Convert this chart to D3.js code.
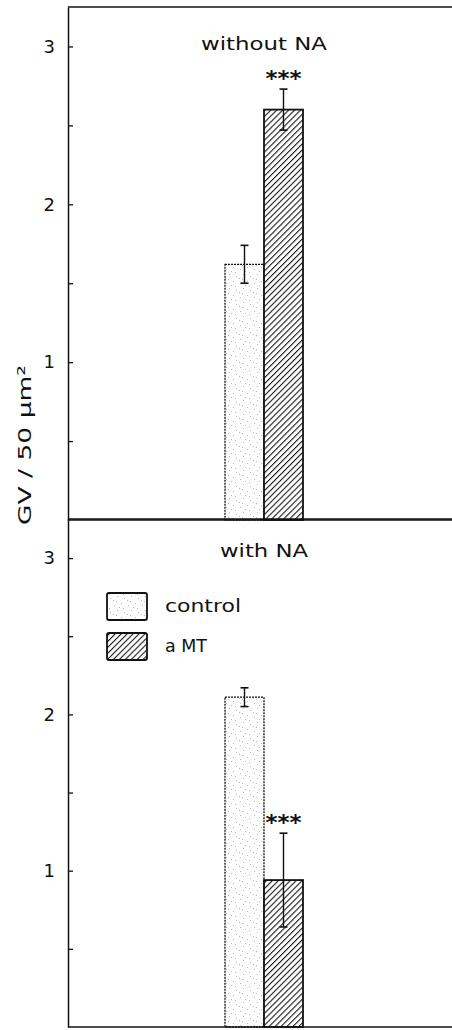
<!DOCTYPE html>
<html>
<head>
<meta charset="utf-8">
<script src="https://cdn.jsdelivr.net/npm/d3@7/dist/d3.min.js"></script>
<style>
  html, body { margin: 0; padding: 0; background: #fff; }
  svg { display: block; }
  text { font-family: "DejaVu Sans", sans-serif; fill: #111; }
</style>
</head>
<body>
<svg id="chart" width="452" height="1030"></svg>
<script>
// ---- data ----
const panels = ["without NA", "with NA"];
const treatments = ["control", "a MT"];
const controlMeans = [1.62, 2.11];
const controlErrors = [0.12, 0.06];
const aMTMeans = [2.60, 0.94];
const aMTErrors = [0.13, 0.30];
const significance = ["***", "***"];
const tickValues = [0.5, 1, 1.5, 2, 2.5, 3];
const tickLabels = ["", "1", "", "2", "", "3"];
const yLabel = "GV / 50 µm²";

// ---- layout ----
const W = 452;
const axisX = 68;
const panelRanges = [[520, 7], [1027, 519]];
const svg = d3.select("#chart");
const defs = svg.append("defs");

// hatch pattern
const hatch = defs.append("pattern").attr("id", "hatch").attr("patternUnits", "userSpaceOnUse")
  .attr("width", 4.2).attr("height", 4.2).attr("patternTransform", "rotate(45)");
hatch.append("rect").attr("width", 4.2).attr("height", 4.2).attr("fill", "#fff");
hatch.append("line").attr("x1", 0).attr("y1", 0).attr("x2", 0).attr("y2", 4.2)
  .attr("stroke", "#111").attr("stroke-width", 2.1);

// stipple pattern
const stip = defs.append("pattern").attr("id", "stipple").attr("patternUnits", "userSpaceOnUse")
  .attr("width", 14).attr("height", 14);
stip.append("rect").attr("width", 14).attr("height", 14).attr("fill", "#fdfdfd");
[[2,3],[9,1],[5,8],[12,10],[1,12],[7,5],[11,6],[4,13]].forEach(p => {
  stip.append("rect").attr("x", p[0]).attr("y", p[1]).attr("width", 1).attr("height", 1).attr("fill", "#bbb");
});

const x = d3.scaleBand().domain(treatments).range([225, 303]).padding(0);
const fills = { "control": "url(#stipple)", "a MT": "url(#hatch)" };

panels.forEach((pname, i) => {
  const y = d3.scaleLinear().domain([0, 3.25]).range(panelRanges[i]);
  const g = svg.append("g");
  const data = [
    { t: "control", v: controlMeans[i], e: controlErrors[i] },
    { t: "a MT", v: aMTMeans[i], e: aMTErrors[i] }
  ];

  // bars
  g.selectAll("rect.bar").data(data).enter().append("rect")
    .attr("class", "bar")
    .attr("x", d => x(d.t))
    .attr("width", x.bandwidth())
    .attr("y", d => y(d.v))
    .attr("height", d => y(0) - y(d.v))
    .attr("fill", d => fills[d.t])
    .attr("stroke", "#111")
    .attr("stroke-width", d => d.t === "a MT" ? 1.8 : 1.3)
    .attr("stroke-dasharray", d => d.t === "a MT" ? null : "2,1");

  // error bars
  data.forEach(d => {
    const cx = x(d.t) + x.bandwidth() / 2;
    g.append("line").attr("x1", cx).attr("x2", cx).attr("y1", y(d.v + d.e)).attr("y2", y(d.v - d.e))
      .attr("stroke", "#111").attr("stroke-width", 1.4);
    [d.v + d.e, d.v - d.e].forEach(val => {
      g.append("line").attr("x1", cx - 4).attr("x2", cx + 4).attr("y1", y(val)).attr("y2", y(val))
        .attr("stroke", "#111").attr("stroke-width", 1.6);
    });
  });

  // significance
  const sd = data[1];
  g.append("text")
    .attr("x", x(sd.t) + x.bandwidth() / 2)
    .attr("y", y(sd.v + sd.e) - 3)
    .attr("text-anchor", "middle")
    .attr("font-size", 22).attr("font-weight", "bold")
    .attr("textLength", 36).attr("lengthAdjust", "spacingAndGlyphs")
    .text(significance[i]);

  // axis
  const axis = d3.axisLeft(y).tickValues(tickValues)
    .tickFormat((d, k) => tickLabels[k]).tickSizeInner(-5).tickSizeOuter(0).tickPadding(13);
  const ag = g.append("g").attr("transform", `translate(${axisX},0)`).call(axis);
  ag.select(".domain").attr("stroke", "#111").attr("stroke-width", 1.5);
  ag.selectAll(".tick line").attr("stroke", "#111").attr("stroke-width", 1.3);
  ag.selectAll(".tick text").attr("font-size", 18).attr("fill", "#111")
    .style("font-family", "DejaVu Sans, sans-serif");

  // top border and baseline
  g.append("line").attr("x1", axisX).attr("x2", W).attr("y1", y.range()[1]).attr("y2", y.range()[1])
    .attr("stroke", "#111").attr("stroke-width", 1.5);
  g.append("line").attr("x1", axisX).attr("x2", W).attr("y1", y(0)).attr("y2", y(0))
    .attr("stroke", "#111").attr("stroke-width", 1.5);

  // title
  g.append("text")
    .attr("x", (x.range()[0] + x.range()[1]) / 2)
    .attr("y", i === 0 ? 50 : 557)
    .attr("text-anchor", "middle")
    .attr("font-size", 17)
    .attr("textLength", i === 0 ? 126 : 88).attr("lengthAdjust", "spacingAndGlyphs")
    .text(pname);

  // legend in bottom panel
  if (i === 1) {
    const leg = g.append("g");
    treatments.forEach((t, k) => {
      const ly = 593 + k * 40;
      leg.append("rect").attr("x", 107).attr("y", ly).attr("width", 40).attr("height", 27)
        .attr("rx", 2).attr("fill", fills[t]).attr("stroke", "#111").attr("stroke-width", 1.8);
      leg.append("text").attr("x", 165).attr("y", ly + 19).attr("font-size", 17)
        .attr("textLength", k === 0 ? 76 : 42).attr("lengthAdjust", "spacingAndGlyphs")
        .text(t);
    });
  }
});

// y label
svg.append("text")
  .attr("transform", "translate(31,445) rotate(-90)")
  .attr("text-anchor", "middle")
  .attr("font-size", 18)
  .attr("textLength", 160).attr("lengthAdjust", "spacingAndGlyphs")
  .text(yLabel);
</script>
</body>
</html>
